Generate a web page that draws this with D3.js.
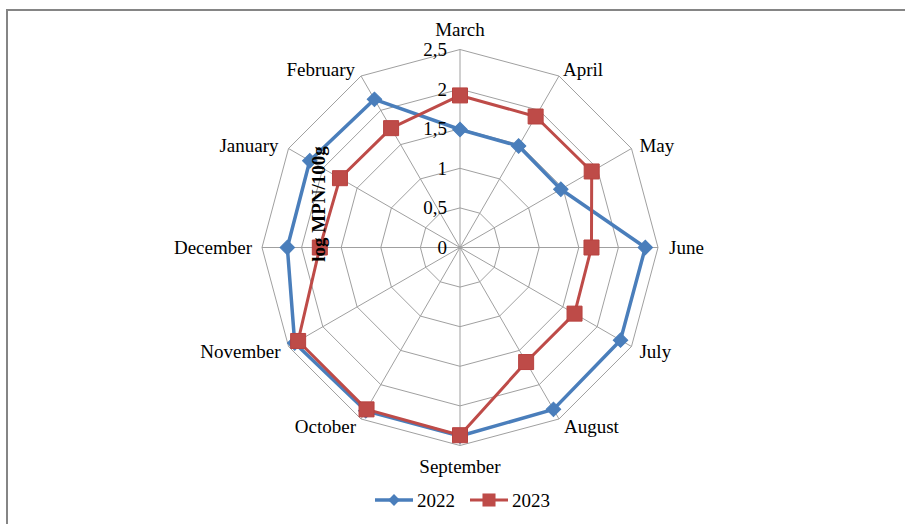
<!DOCTYPE html>
<html>
<head>
<meta charset="utf-8">
<script src="https://cdn.jsdelivr.net/npm/d3@7"></script>
<style>
  html, body { margin: 0; padding: 0; background: #fff; }
  svg { display: block; }
  text { font-family: "Liberation Serif", "Times New Roman", serif; fill: #000; }
</style>
</head>
<body>
<svg id="chart" width="905" height="524"></svg>
<script>
// Monthly counts, log MPN/100g, starting at March and going clockwise
const months = ["March", "April", "May", "June", "July", "August", "September",
                "October", "November", "December", "January", "February"];
const values2022 = [1.49, 1.48, 1.47, 2.34, 2.34, 2.36, 2.38, 2.38, 2.41, 2.18, 2.19, 2.16];
const values2023 = [1.92, 1.91, 1.92, 1.66, 1.67, 1.67, 2.37, 2.36, 2.36, 1.77, 1.75, 1.74];
const tickValues = [0, 0.5, 1, 1.5, 2, 2.5];
const tickLabels = ["0", "0,5", "1", "1,5", "2", "2,5"];
const seriesNames = ["2022", "2023"];

const svg = d3.select("#chart");
const width = 905, height = 524;
const cx = 460, cy = 247.5, R = 198;
const fontSize = 19;

// Outer frame
svg.append("rect")
  .attr("x", 7).attr("y", 10)
  .attr("width", width).attr("height", height)
  .attr("fill", "none").attr("stroke", "#858585").attr("stroke-width", 2);

const r = d3.scaleLinear().domain([0, 2.5]).range([0, R]);
const step = 2 * Math.PI / months.length;
const ang = m => months.indexOf(m) * step;
const pt = (m, v) => [cx + r(v) * Math.sin(ang(m)), cy - r(v) * Math.cos(ang(m))];

const g = svg.append("g");

// Rings (12-sided polygons)
tickValues.slice(1).forEach(t => {
  g.append("polygon")
    .attr("points", months.map(m => pt(m, t).join(",")).join(" "))
    .attr("fill", "none").attr("stroke", "#a0a0a0").attr("stroke-width", 1);
});

// Spokes
months.forEach(m => {
  const [x, y] = pt(m, 2.5);
  g.append("line")
    .attr("x1", cx).attr("y1", cy).attr("x2", x).attr("y2", y)
    .attr("stroke", "#a0a0a0").attr("stroke-width", 1);
});

// Category labels, offset from the outer vertex of each spoke
const labelPos = {
  "March": [0, -14, "middle"], "April": [4, 0, "start"], "May": [8, 3, "start"],
  "June": [11, 6.5, "start"], "July": [8, 11.5, "start"], "August": [5, 14, "start"],
  "September": [0, 27.5, "middle"], "October": [-5, 14, "end"], "November": [-8, 11.5, "end"],
  "December": [-10, 6.5, "end"], "January": [-10, 3, "end"], "February": [-6, 0, "end"]
};
months.forEach(m => {
  const [x, y] = pt(m, 2.5);
  const [dx, dy, anchor] = labelPos[m];
  g.append("text")
    .attr("x", x + dx).attr("y", y + dy)
    .attr("text-anchor", anchor)
    .attr("font-size", fontSize)
    .text(m);
});

// Series
const series = [
  { name: seriesNames[0], values: values2022, color: "#4a7ebb", width: 3.5, marker: "diamond" },
  { name: seriesNames[1], values: values2023, color: "#be4b48", width: 3, marker: "square" }
];
const markerPath = (s, big) => s.marker === "diamond"
  ? d3.symbol().type(d3.symbolSquare).size(big ? 105 : 70)()
  : d3.symbol().type(d3.symbolSquare).size(big ? 225 : 170)();
const line = d3.line().curve(d3.curveLinearClosed);

series.forEach(s => {
  const pts = months.map((m, i) => pt(m, s.values[i]));
  g.append("path")
    .attr("d", line(pts))
    .attr("fill", "none").attr("stroke", s.color)
    .attr("stroke-width", s.width).attr("stroke-linejoin", "round");
  g.selectAll(null).data(pts).enter().append("path")
    .attr("d", markerPath(s, true))
    .attr("transform", d => `translate(${d[0]},${d[1]})` + (s.marker === "diamond" ? " rotate(45)" : ""))
    .attr("fill", s.color)
    .attr("stroke", s.marker === "square" ? "#b8423f" : s.color).attr("stroke-width", 1);
});

// Radial tick labels
tickValues.forEach((t, i) => {
  g.append("text")
    .attr("x", cx - 13).attr("y", cy - r(t) + 6.5)
    .attr("text-anchor", "end")
    .attr("font-size", fontSize)
    .text(tickLabels[i]);
});

// Axis title
g.append("text")
  .attr("transform", `translate(325,204) rotate(-90)`)
  .attr("text-anchor", "middle")
  .attr("font-size", fontSize).attr("font-weight", "bold")
  .text("log MPN/100g");

// Legend
const legend = svg.append("g");
const lx = [375, 470];
series.forEach((s, i) => {
  const x0 = lx[i], y0 = 500;
  legend.append("line")
    .attr("x1", x0).attr("x2", x0 + 38).attr("y1", y0).attr("y2", y0)
    .attr("stroke", s.color).attr("stroke-width", s.width);
  legend.append("path")
    .attr("d", markerPath(s, false))
    .attr("transform", `translate(${x0 + 19},${y0})` + (s.marker === "diamond" ? " rotate(45)" : ""))
    .attr("fill", s.color);
  legend.append("text")
    .attr("x", x0 + 42).attr("y", y0 + 6.5)
    .attr("font-size", fontSize)
    .text(s.name);
});
</script>
</body>
</html>
